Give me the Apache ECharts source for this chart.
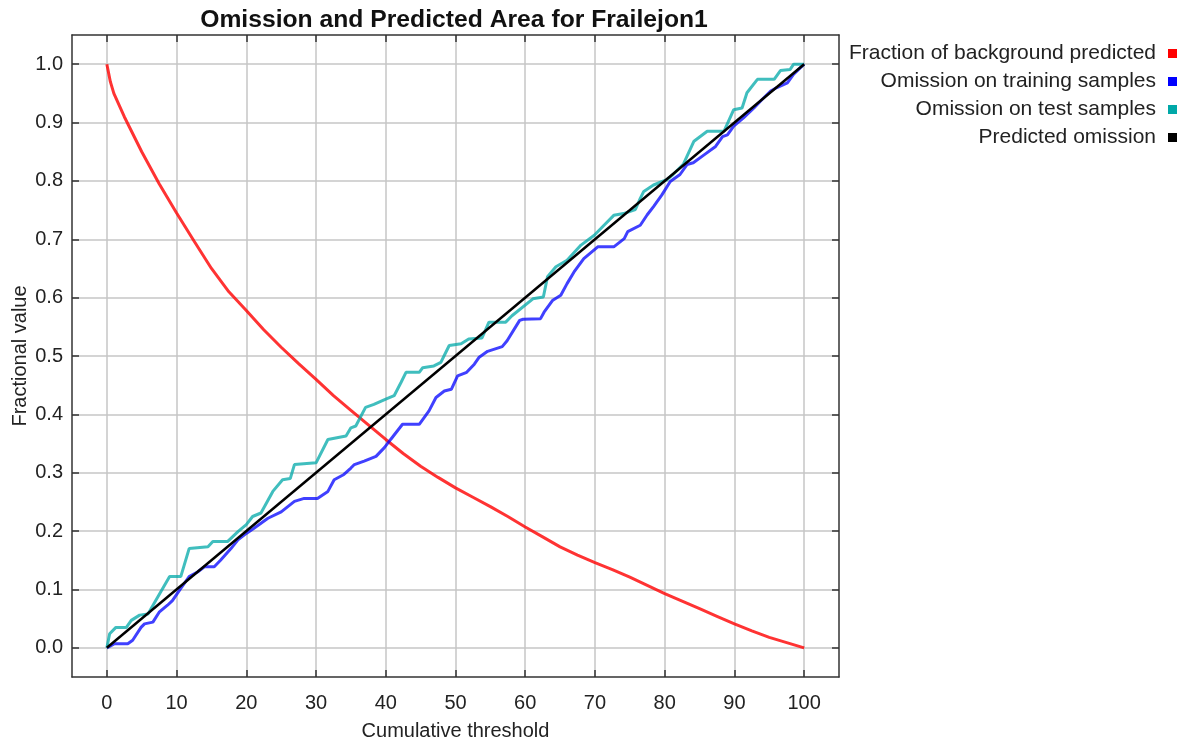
<!DOCTYPE html>
<html>
<head>
<meta charset="utf-8">
<title>Omission and Predicted Area for Frailejon1</title>
<script src="https://cdn.jsdelivr.net/npm/echarts@6/dist/echarts.min.js"></script>
<style>
  html, body { margin: 0; padding: 0; background: #fff; }
  #chart { width: 1186px; height: 742px; }
</style>
</head>
<body>
<div id="chart"></div>
<script>
// tick values for both axes
const xTicks = [0, 10, 20, 30, 40, 50, 60, 70, 80, 90, 100]
const yTicks = [0, 0.1, 0.2, 0.3, 0.4, 0.5, 0.6, 0.7, 0.8, 0.9, 1.0]

// Fraction of background predicted
const bgX = [0, 0.5, 1, 2.5, 5, 7.5, 10, 12.5, 15, 17.5, 20, 22.5, 25, 27.5, 30, 32.5, 35, 37.5, 40, 42.5, 45, 47.5, 50,
  52.5, 55, 57.5, 60, 62.5, 65, 67.5, 70, 72.5, 75, 77.5, 80, 82.5, 85, 87.5, 90, 92.5, 95, 97.5, 100]
const bgY = [1.0, 0.97, 0.95, 0.91, 0.85, 0.795, 0.745, 0.697, 0.65, 0.61, 0.578, 0.545, 0.515, 0.487, 0.46, 0.432, 0.407,
  0.382, 0.357, 0.333, 0.311, 0.292, 0.274, 0.258, 0.242, 0.225, 0.207, 0.19, 0.173, 0.159, 0.146, 0.134, 0.121,
  0.107, 0.093, 0.08, 0.067, 0.054, 0.041, 0.029, 0.018, 0.009, 0]

// Omission on training samples
const trainX = [0, 1.1, 3.0, 3.7, 4.9, 5.4, 6.6, 7.5, 8.7, 9.4, 10.6, 11.8, 13.0, 14.0, 15.4, 16.3, 17.8, 18.8, 20.0,
  21.1, 23.1, 25.0, 26.9, 28.3, 30.2, 31.7, 32.6, 34.0, 35.0, 35.5, 36.9, 38.6, 39.8, 40.7, 42.4, 44.8, 46.2, 47.2,
  48.4, 49.4, 50.3, 51.6, 52.7, 53.4, 54.6, 56.7, 57.4, 59.2, 59.7, 62.2, 62.7, 63.9, 65.1, 66.0, 67.0, 68.4, 70.4,
  72.7, 74.2, 74.7, 76.5, 77.5, 78.4, 79.6, 80.8, 82.2, 83.2, 84.1, 85.7, 87.3, 88.3, 89.0, 89.9, 91.3, 92.8, 94.0,
  95.2, 96.1, 97.6, 98.5, 100]
const trainY = [0, 0.007, 0.007, 0.013, 0.035, 0.041, 0.044, 0.061, 0.073, 0.081, 0.102, 0.122, 0.130, 0.139, 0.139,
  0.150, 0.170, 0.185, 0.196, 0.205, 0.222, 0.233, 0.251, 0.256, 0.256, 0.268, 0.288, 0.297, 0.308, 0.314, 0.320,
  0.328, 0.343, 0.357, 0.383, 0.383, 0.406, 0.429, 0.440, 0.443, 0.466, 0.472, 0.486, 0.498, 0.508, 0.516, 0.526,
  0.561, 0.563, 0.564, 0.575, 0.595, 0.604, 0.624, 0.644, 0.667, 0.687, 0.687, 0.701, 0.713, 0.724, 0.742, 0.756,
  0.776, 0.799, 0.811, 0.828, 0.831, 0.845, 0.859, 0.876, 0.879, 0.894, 0.908, 0.925, 0.940, 0.954, 0.960, 0.968,
  0.983, 1.0]

// Omission on test samples
const testX = [0, 0.4, 1.3, 2.8, 3.5, 4.7, 5.9, 7.3, 9.0, 10.6, 11.8, 14.5, 15.2, 17.3, 18.8, 20.0, 20.9, 22.1, 23.8,
  25.2, 26.3, 26.9, 30.0, 31.7, 34.3, 35.0, 35.7, 37.1, 38.3, 40.0, 41.2, 42.2, 42.9, 44.8, 45.3, 46.9, 47.9, 48.6,
  49.1, 50.8, 51.9, 53.8, 54.8, 57.2, 58.1, 61.1, 62.6, 63.2, 64.4, 66.0, 68.0, 69.9, 71.3, 72.7, 74.1, 75.8, 76.5,
  77.0, 78.4, 80.3, 81.2, 82.7, 84.2, 86.1, 88.5, 89.9, 91.1, 91.8, 93.3, 95.7, 96.6, 98.0, 98.5, 100]
const testY = [0, 0.024, 0.035, 0.035, 0.047, 0.056, 0.058, 0.087, 0.122, 0.122, 0.170, 0.173, 0.182, 0.182, 0.199,
  0.211, 0.225, 0.231, 0.268, 0.288, 0.290, 0.314, 0.317, 0.357, 0.363, 0.377, 0.380, 0.412, 0.417, 0.426, 0.432,
  0.455, 0.472, 0.472, 0.480, 0.483, 0.489, 0.506, 0.518, 0.521, 0.529, 0.531, 0.558, 0.558, 0.569, 0.598, 0.601,
  0.636, 0.653, 0.664, 0.690, 0.707, 0.724, 0.741, 0.744, 0.751, 0.770, 0.782, 0.793, 0.802, 0.811, 0.829, 0.868,
  0.885, 0.885, 0.922, 0.925, 0.951, 0.974, 0.974, 0.989, 0.991, 1.0, 1.0]

// Predicted omission
const predX = [0, 100]
const predY = [0, 1]

const names = ['Fraction of background predicted', 'Omission on training samples',
  'Omission on test samples', 'Predicted omission']
const colors = ['#ff0000', '#0000ff', '#00a8a8', '#000000']

const zip = (xs, ys) => xs.map((x, i) => [x, ys[i]])

const font = "'Liberation Sans', Arial, sans-serif"
const frameColor = '#333333'

let chart = echarts.init(document.getElementById('chart'))

const baseX = {
  type: 'value', min: -5, max: 105,
  axisLine: { onZero: false, lineStyle: { color: frameColor, width: 1.5 } },
  axisTick: { inside: true, length: 7, customValues: xTicks, lineStyle: { color: frameColor, width: 1.5 } }
}
const baseY = {
  type: 'value', min: -0.05, max: 1.05,
  axisLine: { onZero: false, lineStyle: { color: frameColor, width: 1.5 } },
  axisTick: { inside: true, length: 7, customValues: yTicks, lineStyle: { color: frameColor, width: 1.5 } }
}

const lineSeries = (i, xs, ys, opacity, width) => ({
  name: names[i],
  type: 'line',
  data: zip(xs, ys),
  showSymbol: false,
  symbol: 'none',
  color: colors[i],
  itemStyle: { color: colors[i] },
  lineStyle: { color: colors[i], width: width, opacity: opacity },
  z: 2 + i
})

const option = {
  animation: false,
  backgroundColor: '#ffffff',
  title: {
    text: 'Omission and Predicted Area for Frailejon1',
    left: 449, top: 3, textAlign: 'center',
    textStyle: { fontFamily: font, fontWeight: 'bold', fontSize: 24.7, color: '#111' }
  },
  legend: {
    orient: 'vertical', right: 4, top: 38, align: 'right',
    itemWidth: 9, itemHeight: 9, itemGap: 7, icon: 'rect',
    data: names,
    textStyle: { fontFamily: font, fontSize: 21, color: '#222', lineHeight: 21, padding: [0, 7, 0, 0] }
  },
  grid: { left: 72, right: 347, top: 35, bottom: 65, containLabel: false, outerBoundsMode: 'none' },
  xAxis: [
    Object.assign({}, baseX, {
      position: 'bottom',
      name: 'Cumulative threshold', nameLocation: 'middle', nameGap: 44, nameMoveOverlap: false,
      nameTextStyle: { fontFamily: font, fontSize: 20, color: '#222' },
      axisLabel: { customValues: xTicks, margin: 16, fontFamily: font, fontSize: 20, color: '#222' },
      splitLine: { show: true, lineStyle: { color: '#c6c6c6', width: 1.5 } }
    }),
    Object.assign({}, baseX, {
      position: 'top',
      axisLabel: { show: false },
      splitLine: { show: false }
    })
  ],
  yAxis: [
    Object.assign({}, baseY, {
      position: 'left',
      name: 'Fractional value', nameLocation: 'middle', nameGap: 42, nameMoveOverlap: false,
      nameTextStyle: { fontFamily: font, fontSize: 20, color: '#222' },
      axisLabel: {
        customValues: yTicks, margin: 9, fontFamily: font, fontSize: 20, color: '#222',
        formatter: (v) => v.toFixed(1)
      },
      splitLine: { show: true, lineStyle: { color: '#c6c6c6', width: 1.5 } }
    }),
    Object.assign({}, baseY, {
      position: 'right',
      axisLabel: { show: false },
      splitLine: { show: false }
    })
  ],
  series: [
    lineSeries(0, bgX, bgY, 0.8, 3),
    lineSeries(1, trainX, trainY, 0.75, 3),
    lineSeries(2, testX, testY, 0.75, 3),
    lineSeries(3, predX, predY, 1, 2.5)
  ]
}

chart.setOption(option)

window.addEventListener('resize', () => chart.resize())
</script>
</body>
</html>
